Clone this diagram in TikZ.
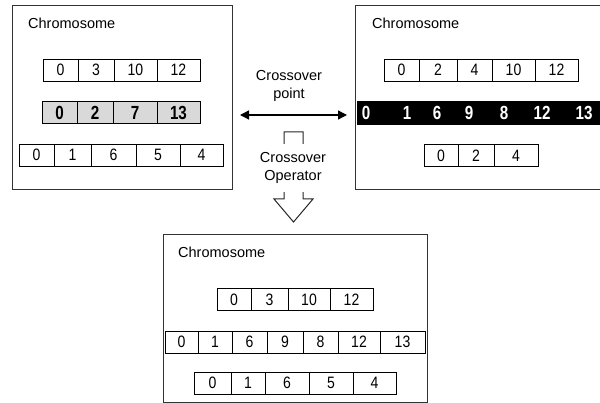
\documentclass[tikz,border=0pt]{standalone}
\usepackage{fontspec}
\setmainfont{Liberation Sans}
\usetikzlibrary{positioning, arrows.meta}
\tikzstyle{chrbox} = [rectangle, draw=black!80, line width=1pt, inner sep=0pt, outer sep=0pt]
\tikzstyle{title} = [anchor=west, inner sep=0pt, font=\fontsize{14.5}{16}\selectfont]
\tikzstyle{cell} = [rectangle, draw=black, line width=0.8pt, minimum height=22, inner sep=0pt, outer sep=0pt, font=\fontsize{16.5}{17}\selectfont\addfontfeature{FakeStretch=0.85}]
\tikzstyle{gcell} = [cell, fill=black!15, font=\fontsize{19}{20}\selectfont\bfseries\addfontfeature{FakeStretch=0.8}]
\tikzstyle{bnum} = [text=white, inner sep=0pt, font=\fontsize{19}{20}\selectfont\bfseries\addfontfeature{FakeStretch=0.8}]
\tikzstyle{note} = [align=center, inner sep=0pt, font=\fontsize{14.5}{18}\selectfont]
\tikzstyle{arrow} = [line width=1.3pt, {Triangle[length=9pt,width=9pt]}-{Triangle[length=9pt,width=9pt]}, shorten <=8pt, shorten >=8pt]
\tikzstyle{blockarrow} = [draw=black!85, line width=1pt, fill=white]

\begin{document}
\begin{tikzpicture}[x=1pt, y=-1pt]
\useasboundingbox (0,0) rectangle (600,403);

% Chromosome boxes
\node (lbox) [chrbox, minimum width=220, minimum height=184, anchor=north west] at (12,6) {};
\node (rbox) [chrbox, minimum width=255, minimum height=184, anchor=north west] at (355,6) {};
\node (bbox) [chrbox, minimum width=264, minimum height=167, anchor=north west] at (163,235) {};
\node (ltitle) [title] at (28,23) {Chromosome};
\node (rtitle) [title] at (372,23) {Chromosome};
\node (btitle) [title] at (178,252) {Chromosome};

% Left parent
\node (la1) [cell, minimum width=35, anchor=west] at (43,70) {0};
\node (la2) [cell, minimum width=36, right=0pt of la1] {3};
\node (la3) [cell, minimum width=43, right=0pt of la2] {10};
\node (la4) [cell, minimum width=43, right=0pt of la3] {12};

\node (lb1) [gcell, minimum width=35, anchor=west] at (42,112.5) {0};
\node (lb2) [gcell, minimum width=36, right=0pt of lb1] {2};
\node (lb3) [gcell, minimum width=44, right=0pt of lb2] {7};
\node (lb4) [gcell, minimum width=43, right=0pt of lb3] {13};

\node (lc1) [cell, minimum width=35, anchor=west] at (19,155) {0};
\node (lc2) [cell, minimum width=37, right=0pt of lc1] {1};
\node (lc3) [cell, minimum width=45, right=0pt of lc2] {6};
\node (lc4) [cell, minimum width=44, right=0pt of lc3] {5};
\node (lc5) [cell, minimum width=43, right=0pt of lc4] {4};

% Right parent
\node (ra1) [cell, minimum width=35, anchor=west] at (384,70) {0};
\node (ra2) [cell, minimum width=38, right=0pt of ra1] {2};
\node (ra3) [cell, minimum width=35, right=0pt of ra2] {4};
\node (ra4) [cell, minimum width=43, right=0pt of ra3] {10};
\node (ra5) [cell, minimum width=43, right=0pt of ra4] {12};

\node (band) [rectangle, fill=black, minimum width=250, minimum height=24, inner sep=0pt, anchor=west] at (357,113) {};
\node (rb1) [bnum] at (366,113) {0};
\node (rb2) [bnum] at (407,113) {1};
\node (rb3) [bnum] at (437,113) {6};
\node (rb4) [bnum] at (469,113) {9};
\node (rb5) [bnum] at (504,113) {8};
\node (rb6) [bnum] at (542,113) {12};
\node (rb7) [bnum] at (584,113) {13};

\node (rc1) [cell, minimum width=34, anchor=west] at (424,155.5) {0};
\node (rc2) [cell, minimum width=36, right=0pt of rc1] {2};
\node (rc3) [cell, minimum width=44, right=0pt of rc2] {4};

% Offspring
\node (ba1) [cell, minimum width=34, anchor=west] at (217,299.5) {0};
\node (ba2) [cell, minimum width=37, right=0pt of ba1] {3};
\node (ba3) [cell, minimum width=42, right=0pt of ba2] {10};
\node (ba4) [cell, minimum width=43, right=0pt of ba3] {12};

\node (bb1) [cell, minimum width=33, anchor=west] at (165,342) {0};
\node (bb2) [cell, minimum width=34, right=0pt of bb1] {1};
\node (bb3) [cell, minimum width=35, right=0pt of bb2] {6};
\node (bb4) [cell, minimum width=36, right=0pt of bb3] {9};
\node (bb5) [cell, minimum width=35, right=0pt of bb4] {8};
\node (bb6) [cell, minimum width=42, right=0pt of bb5] {12};
\node (bb7) [cell, minimum width=45, right=0pt of bb6] {13};

\node (bc1) [cell, minimum width=37, anchor=west] at (194,383) {0};
\node (bc2) [cell, minimum width=34, right=0pt of bc1] {1};
\node (bc3) [cell, minimum width=44, right=0pt of bc2] {6};
\node (bc4) [cell, minimum width=44, right=0pt of bc3] {5};
\node (bc5) [cell, minimum width=43, right=0pt of bc4] {4};

% Crossover point
\node (xpoint) [note] at (289,86) {Crossover\\point};
\draw [arrow] ([yshift=-17pt]lbox.east) -- ([yshift=-17pt]rbox.west);

% Crossover operator
\coordinate (optop) at (293.5,132);
\draw [blockarrow] (optop) ++(-9.5,0) -- ++(19,0) -- ++(0,67) -- ++(10,0)
  -- ++(-19.5,23) -- ++(-19.5,-23) -- ++(10,0) -- cycle;
\node (xop) [note, fill=white, minimum height=48, minimum width=24] at (293,168) {Crossover\\Operator};

\end{tikzpicture}
\end{document}
